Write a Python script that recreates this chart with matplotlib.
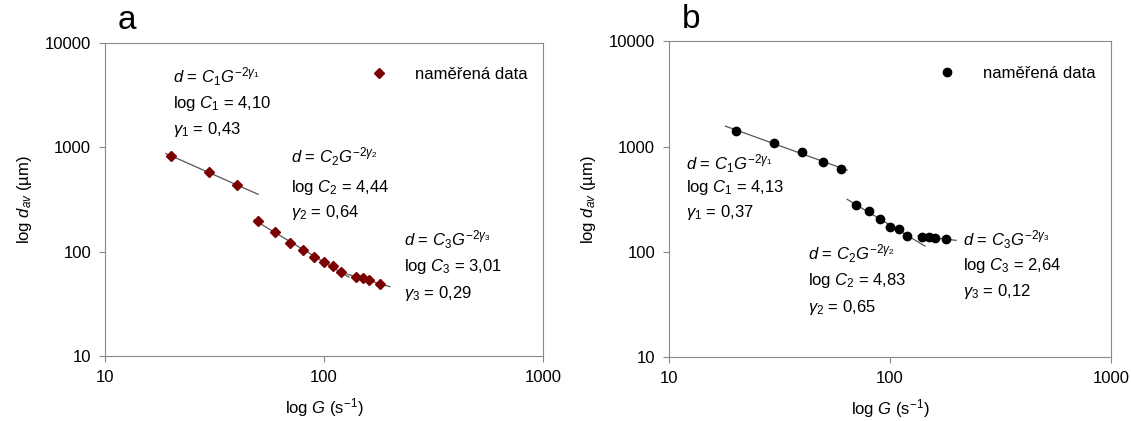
import matplotlib
matplotlib.use('Agg')
import matplotlib.pyplot as plt
import numpy as np

plt.rcParams['font.family'] = 'Liberation Sans'
plt.rcParams['mathtext.fontset'] = 'custom'
plt.rcParams['mathtext.rm'] = 'Liberation Sans'
plt.rcParams['mathtext.it'] = 'Liberation Sans:italic'
plt.rcParams['font.size'] = 12

# measured data (G in 1/s, d_av in um)
G = [20, 30, 40, 50, 60, 70, 80, 90, 100, 110, 120, 140, 150, 160, 180]
d_a = [822, 577, 431, 195, 154, 120, 104, 88, 79, 72.6, 63.6, 57, 55.5, 53, 49]
d_b = [1413, 1072, 881, 718, 611, 278, 244, 205, 173, 163, 142, 139, 138, 136, 131]

# point ranges of the three regimes, and G range of each fitted line
seg_a = [(0, 3), (3, 11), (11, 15)]
seg_b = [(0, 5), (5, 11), (11, 15)]
lines_a = [(19, 50), (48, 130), (128, 200)]
lines_b = [(18, 64), (64, 144), (134, 199)]

# annotation texts
logC_a = ['4,10', '4,44', '3,01']
gam_a = ['0,43', '0,64', '0,29']
logC_b = ['4,13', '4,83', '2,64']
gam_b = ['0,37', '0,65', '0,12']

xticks = [10, 100, 1000]
yticks = [10, 100, 1000, 10000]

fig = plt.figure(figsize=(11.31, 4.21), dpi=100)
ax1 = fig.add_axes([0.0928, 0.1544, 0.3873, 0.7442])
ax2 = fig.add_axes([0.5915, 0.152, 0.3908, 0.750])


def setup(ax, letter):
    ax.set_xscale('log')
    ax.set_yscale('log')
    ax.set_xlim(10, 1000)
    ax.set_ylim(10, 10000)
    ax.set_xticks(xticks, labels=[str(t) for t in xticks])
    ax.set_yticks(yticks, labels=[str(t) for t in yticks])
    ax.minorticks_off()
    for s in ax.spines.values():
        s.set_color('#8a8a8a')
    ax.tick_params(direction='out', length=4, color='#8a8a8a', pad=6)
    ax.set_xlabel(r'log $G$ (s$^{-1}$)', labelpad=8)
    ax.set_ylabel(r'log $d_{av}$ (µm)', labelpad=8)
    ax.text(0.03, 1.02, letter, transform=ax.transAxes, fontsize=24, va='bottom')


def fits(ax, d, segs, rng):
    lg = np.log10(G)
    ld = np.log10(d)
    for (i0, i1), (g0, g1) in zip(segs, rng):
        k, q = np.polyfit(lg[i0:i1], ld[i0:i1], 1)
        gx = np.array([g0, g1])
        ax.plot(gx, 10 ** (q + k * np.log10(gx)), color='#555555', lw=0.9, zorder=2)


def block(ax, x, ys, i, logc, gam):
    ax.text(x, ys[0], r'$d$ = $C_%dG^{-2\gamma_%d}$' % (i, i), va='center')
    ax.text(x, ys[1], r'log $C_%d$ = %s' % (i, logc), va='center')
    ax.text(x, ys[2], r'$\gamma_%d$ = %s' % (i, gam), va='center')


# panel a
setup(ax1, 'a')
fits(ax1, d_a, seg_a, lines_a)
ax1.plot(G, d_a, 'D', color='#7b0000', ms=5, zorder=3, label='naměřená data')
block(ax1, 20.5, [10 ** 3.674, 10 ** 3.413, 10 ** 3.164], 1, logC_a[0], gam_a[0])
block(ax1, 71, [10 ** 2.908, 10 ** 2.615, 10 ** 2.375], 2, logC_a[1], gam_a[1])
block(ax1, 233, [10 ** 2.11, 10 ** 1.855, 10 ** 1.60], 3, logC_a[2], gam_a[2])
ax1.legend(loc='upper right', frameon=False, handletextpad=1.2, bbox_to_anchor=(1.0, 0.97))

# panel b
setup(ax2, 'b')
fits(ax2, d_b, seg_b, lines_b)
ax2.plot(G, d_b, 'o', color='black', ms=6, zorder=3, label='naměřená data')
block(ax2, 12, [10 ** 2.839, 10 ** 2.611, 10 ** 2.370], 1, logC_b[0], gam_b[0])
block(ax2, 42.4, [10 ** 1.977, 10 ** 1.723, 10 ** 1.475], 2, logC_b[1], gam_b[1])
block(ax2, 213, [10 ** 2.11, 10 ** 1.866, 10 ** 1.618], 3, logC_b[2], gam_b[2])
ax2.legend(loc='upper right', frameon=False, handletextpad=1.2, bbox_to_anchor=(1.0, 0.97))

fig.savefig('out.png', dpi=100)
